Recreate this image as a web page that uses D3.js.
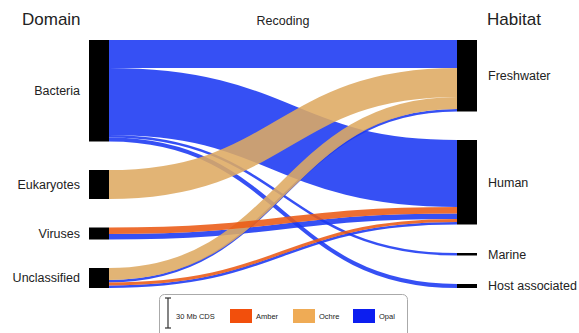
<!DOCTYPE html>
<html>
<head>
<meta charset="utf-8">
<script src="https://cdn.jsdelivr.net/npm/d3@7"></script>
<style>
  body { margin: 0; background: #fff; }
  text { font-family: "Liberation Sans", Arial, sans-serif; fill: #222; }
</style>
</head>
<body>
<svg id="chart"></svg>
<script>
// sankey of recoding types, domain -> habitat (values in Mb CDS)
const domains = ["Bacteria", "Eukaryotes", "Viruses", "Unclassified"];
const habitats = ["Freshwater", "Human", "Marine", "Host associated"];
const codes = ["Amber", "Ochre", "Opal"];

const flowSource = ["Bacteria", "Bacteria", "Bacteria", "Bacteria", "Eukaryotes", "Viruses", "Viruses", "Unclassified", "Unclassified", "Unclassified", "Unclassified"];
const flowTarget = ["Freshwater", "Human", "Marine", "Host associated", "Freshwater", "Human", "Human", "Freshwater", "Freshwater", "Human", "Human"];
const flowCode = ["Opal", "Opal", "Opal", "Opal", "Ochre", "Amber", "Opal", "Ochre", "Opal", "Amber", "Opal"];
const flowValue = [28, 67, 2.5, 4, 29, 6.5, 5.5, 12, 2.5, 3, 2.5];

const width = 579, height = 333;
const yTop = 40, yBottom = 288;
const leftX = [89, 109], rightX = [457, 477];

const color = d3.scaleOrdinal()
  .domain(codes)
  .range(["#ea5a14", "#deaa62", "#1a38f2"]);
const legendColor = d3.scaleOrdinal()
  .domain(codes)
  .range(["#f24f0c", "#efab55", "#0c1ef0"]);

const svg = d3.select("#chart").attr("width", width).attr("height", height);

const links = flowValue.map((v, i) => ({
  source: flowSource[i], target: flowTarget[i], code: flowCode[i], value: v, index: i
}));

// one px per Mb, shared by both columns
const ky = d3.scaleLinear().domain([0, 30]).range([0, 30]);

function layoutColumn(names, key, xs) {
  const vals = names.map(n => d3.sum(links.filter(l => l[key] === n), l => l.value));
  const pad = (yBottom - yTop - ky(d3.sum(vals))) / (names.length - 1);
  let y = yTop;
  return names.map((n, i) => {
    const node = { name: n, x0: xs[0], x1: xs[1], y0: y, y1: y + ky(vals[i]) };
    y = node.y1 + pad;
    return node;
  });
}

const left = layoutColumn(domains, "source", leftX);
const right = layoutColumn(habitats, "target", rightX);
const byName = new Map([...left, ...right].map(n => [n.name, n]));

// stack link ends on each node
left.forEach(n => {
  let y = n.y0;
  links.filter(l => l.source === n.name)
    .sort((a, b) => byName.get(a.target).y0 - byName.get(b.target).y0 || a.index - b.index)
    .forEach(l => { l.w = ky(l.value); l.sy = y + l.w / 2; y += l.w; });
});
right.forEach(n => {
  let y = n.y0;
  links.filter(l => l.target === n.name)
    .sort((a, b) => byName.get(a.source).y0 - byName.get(b.source).y0 || a.index - b.index)
    .forEach(l => { l.ty = y + l.w / 2; y += l.w; });
});

const linkPath = d3.linkHorizontal()
  .source(d => [leftX[1], d.sy])
  .target(d => [rightX[0], d.ty]);

const drawOrder = ["Opal", "Ochre", "Amber"];
svg.append("g")
  .attr("fill", "none")
  .selectAll("path")
  .data(links.slice().sort((a, b) => drawOrder.indexOf(a.code) - drawOrder.indexOf(b.code)))
  .join("path")
  .attr("d", linkPath)
  .attr("stroke", d => color(d.code))
  .attr("stroke-opacity", 0.88)
  .attr("stroke-width", d => Math.max(1.5, d.w));

svg.append("g")
  .selectAll("rect")
  .data([...left, ...right])
  .join("rect")
  .attr("x", d => d.x0)
  .attr("y", d => d.y0)
  .attr("width", d => d.x1 - d.x0)
  .attr("height", d => Math.max(2.5, d.y1 - d.y0))
  .attr("fill", "#000");

// node labels
svg.append("g")
  .selectAll("text")
  .data(left)
  .join("text")
  .attr("x", 80)
  .attr("y", d => (d.y0 + d.y1) / 2)
  .attr("dy", "0.35em")
  .attr("text-anchor", "end")
  .attr("font-size", 12.5)
  .text(d => d.name);

svg.append("g")
  .selectAll("text")
  .data(right)
  .join("text")
  .attr("x", 488)
  .attr("y", d => (d.y0 + d.y1) / 2)
  .attr("dy", "0.35em")
  .attr("font-size", 12.5)
  .text(d => d.name);

// column titles
svg.append("text").attr("x", 22).attr("y", 25).attr("font-size", 17).text("Domain");
svg.append("text").attr("x", 487).attr("y", 25).attr("font-size", 17).text("Habitat");
svg.append("text").attr("x", 283).attr("y", 25).attr("font-size", 12.5)
  .attr("text-anchor", "middle").text("Recoding");

// legend
const legend = svg.append("g");
legend.append("rect")
  .attr("x", 159.5).attr("y", 294.5)
  .attr("width", 248).attr("height", 50).attr("rx", 5)
  .attr("fill", "#fff").attr("stroke", "#aaa");

const barTop = 298;
legend.append("line")
  .attr("x1", 168).attr("x2", 168)
  .attr("y1", barTop).attr("y2", barTop + ky(30))
  .attr("stroke", "#333").attr("stroke-width", 1.2);
[barTop, barTop + ky(30)].forEach(y => legend.append("line")
  .attr("x1", 165).attr("x2", 171).attr("y1", y).attr("y2", y)
  .attr("stroke", "#333").attr("stroke-width", 1.2));
legend.append("text").attr("x", 176).attr("y", 318.5).attr("font-size", 7.5).text("30 Mb CDS");

const swatchX = [230, 293, 353];
codes.forEach((c, i) => {
  legend.append("rect")
    .attr("x", swatchX[i]).attr("y", 309)
    .attr("width", 22).attr("height", 14)
    .attr("fill", legendColor(c));
  legend.append("text")
    .attr("x", swatchX[i] + 26).attr("y", 318.5)
    .attr("font-size", 7.5).text(c);
});
</script>
</body>
</html>
